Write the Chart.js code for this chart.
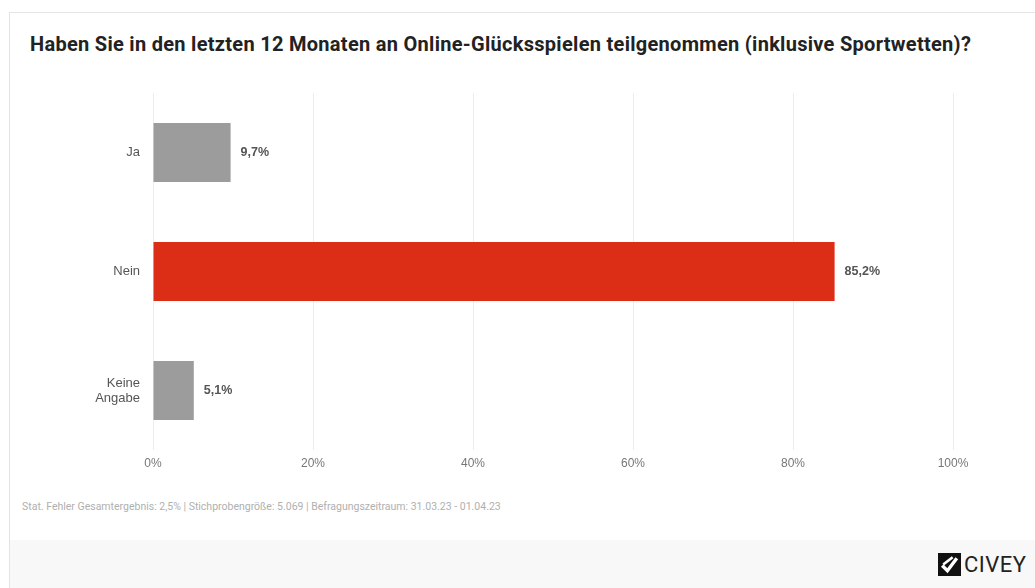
<!DOCTYPE html>
<html lang="de">
<head>
<meta charset="utf-8">
<script src="https://cdn.jsdelivr.net/npm/chart.js@4"></script>
<style>
  html, body { margin: 0; padding: 0; background: #fff; }
  body { width: 1035px; height: 588px; position: relative; overflow: hidden; font-family: Roboto, "Noto Sans", sans-serif; }
  .card { position: absolute; left: 9px; top: 12px; right: -2px; bottom: -2px; border: 1px solid #e4e4e4; background: #fff; }
  .title { position: absolute; left: 30px; top: 32px; font-size: 20px; font-weight: 700; color: #222; letter-spacing: 0.29px; white-space: nowrap; }
  .chart-box { position: absolute; left: 0; top: 65px; width: 1035px; height: 415px; }
  .note { position: absolute; left: 22px; top: 500px; font-size: 10.5px; color: #b0b0b0; white-space: nowrap; }
  .footer { position: absolute; left: 10px; top: 540px; right: 0; bottom: 0; background: #f8f8f8; }
  .logo { position: absolute; left: 938px; top: 552px; display: flex; align-items: center; }
  .logo span { font-size: 22px; color: #222; margin-left: 3px; letter-spacing: 0.5px; }
</style>
</head>
<body>
<div class="card"></div>
<div class="footer"></div>
<div class="title">Haben Sie in den letzten 12 Monaten an Online-Glücksspielen teilgenommen (inklusive Sportwetten)?</div>
<div class="chart-box"><canvas id="chart"></canvas></div>
<div class="note">Stat. Fehler Gesamtergebnis: 2,5% | Stichprobengröße: 5.069 | Befragungszeitraum: 31.03.23 - 01.04.23</div>
<div class="logo">
  <svg width="23" height="23" viewBox="0 0 22 22">
    <rect width="22" height="22" fill="#111"/>
    <path d="M4 12 L9 17 L18 5" stroke="#fff" stroke-width="3.2" fill="none"/>
    <path d="M14 4 L5 11" stroke="#fff" stroke-width="2.5" fill="none"/>
  </svg>
  <span>CIVEY</span>
</div>
<script>
const categories = [["Ja"], ["Nein"], ["Keine", "Angabe"]];
const shares = [9.7, 85.2, 5.1];
const barColors = ["#9c9c9c", "#dc2d17", "#9c9c9c"];
const tickValues = [0, 20, 40, 60, 80, 100];

const fmt = (v) => v.toFixed(1).replace(".", ",") + "%";

// writes the percentage next to the end of each bar
const valueLabels = {
  id: "valueLabels",
  afterDatasetsDraw(chart) {
    const ctx = chart.ctx;
    const meta = chart.getDatasetMeta(0);
    ctx.save();
    ctx.font = "bold 12.5px 'Liberation Sans', Arial, sans-serif";
    ctx.fillStyle = "#555";
    ctx.textAlign = "left";
    ctx.textBaseline = "middle";
    meta.data.forEach((bar, i) => {
      ctx.fillText(fmt(shares[i]), bar.x + 10, bar.y);
    });
    ctx.restore();
  },
};

new Chart(document.getElementById("chart"), {
  type: "bar",
  data: {
    labels: categories,
    datasets: [
      {
        data: shares,
        backgroundColor: barColors,
        barPercentage: 0.495,
        categoryPercentage: 1,
      },
    ],
  },
  options: {
    indexAxis: "y",
    responsive: true,
    maintainAspectRatio: false,
    animation: false,
    layout: { padding: { top: 0, right: 82, bottom: 0, left: 0 } },
    plugins: { legend: { display: false }, tooltip: { enabled: false } },
    scales: {
      x: {
        min: 0,
        max: 100,
        afterBuildTicks: (scale) => {
          scale.ticks = tickValues.map((v) => ({ value: v }));
        },
        afterFit: (scale) => {
          scale.height = 30;
        },
        border: { display: false },
        grid: { color: "#ededed", drawTicks: false },
        ticks: {
          padding: 6,
          color: "#777",
          font: { family: "Liberation Sans", size: 12 },
          callback: (v) => v + "%",
        },
      },
      y: {
        afterFit: (scale) => {
          scale.width = 153;
        },
        border: { display: false },
        grid: { display: false, drawTicks: false },
        ticks: {
          padding: 13,
          color: "#555",
          font: { family: "Liberation Sans", size: 13, lineHeight: 1.15 },
        },
      },
    },
  },
  plugins: [valueLabels],
});
</script>
</body>
</html>
